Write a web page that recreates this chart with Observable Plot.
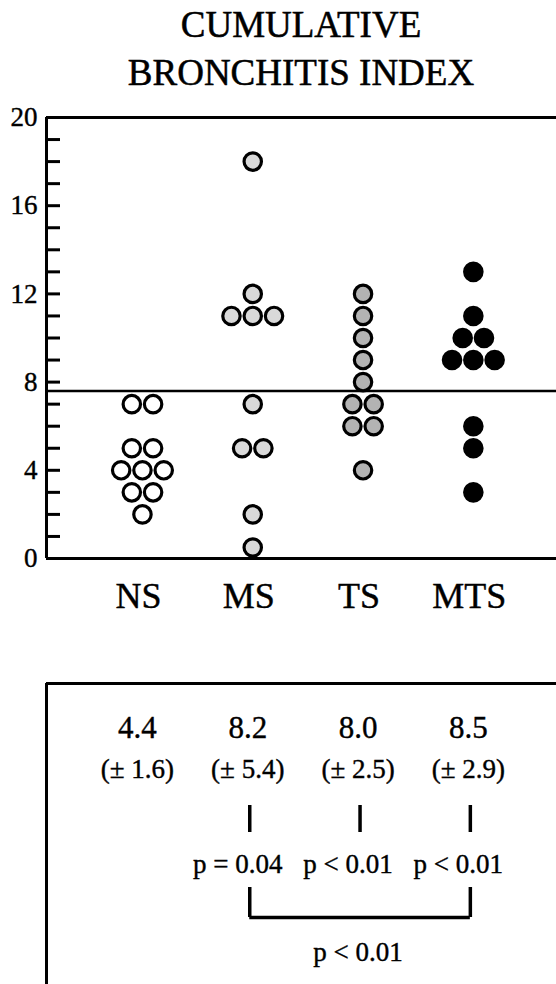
<!DOCTYPE html>
<html><head><meta charset="utf-8">
<script src="https://cdn.jsdelivr.net/npm/d3@7"></script>
<script src="https://cdn.jsdelivr.net/npm/@observablehq/plot@0.6"></script>
<style>
body{margin:0;background:#fff;width:556px;height:984px;overflow:hidden;font-family:"Liberation Serif",serif;color:#000}
#title{height:100px;box-sizing:border-box;padding-left:46px;padding-top:1px;text-align:center;font-size:37px;line-height:48px;-webkit-text-stroke:0.5px #000}
svg{display:block}
svg text{stroke:#000;stroke-width:0.4px}
</style></head><body>
<div id="title">CUMULATIVE<br>BRONCHITIS INDEX</div>
<div id="chart"></div>
<div id="stats"></div>
<script>
const groups = ["NS", "MS", "TS", "MTS"];
const fills = ["#ffffff", "#d9d9d9", "#b3b3b3", "#000000"];
const nsValues = [7, 7, 5, 5, 4, 4, 4, 3, 3, 2];
const msValues = [18, 12, 11, 11, 11, 7, 5, 5, 2, 0.5];
const tsValues = [12, 11, 10, 9, 8, 7, 7, 6, 6, 4];
const mtsValues = [13, 11, 10, 10, 9, 9, 9, 6, 5, 3];
const threshold = 7.6;
const yTickLabels = [0, 4, 8, 12, 16, 20];
const yMinorTicks = d3.range(0, 21, 1);
const means = [4.4, 8.2, 8.0, 8.5];
const sds = [1.6, 5.4, 2.5, 2.9];
const pVsNS = [{group: "MS", p: "p = 0.04"}, {group: "TS", p: "p < 0.01"}, {group: "MTS", p: "p < 0.01"}];
const bracket = {from: "MS", to: "MTS", p: "p < 0.01"};

// layout
const xDomain = [-0.87, 3.754];
const step = 0.193;
const font = '"Liberation Serif", "Times New Roman", serif';

const points = [];
[nsValues, msValues, tsValues, mtsValues].forEach((vals, gi) => {
  const counts = d3.rollup(vals, v => v.length, d => d);
  const seen = new Map();
  vals.forEach(v => {
    const n = counts.get(v), j = seen.get(v) || 0;
    seen.set(v, j + 1);
    points.push({group: groups[gi], gi, value: v, pos: gi + (j - (n - 1) / 2) * step});
  });
});

const chart = Plot.plot({
  width: 556, height: 540,
  marginTop: 17, marginBottom: 82, marginLeft: 46, marginRight: 0,
  style: {fontFamily: font, color: "#000", background: "#fff", overflow: "visible"},
  x: {domain: xDomain, axis: null},
  y: {domain: [0, 20], axis: null},
  color: {domain: groups, range: fills},
  marks: [
    Plot.ruleY([0, 20], {stroke: "#000", strokeWidth: 3}),
    Plot.ruleX([xDomain[0]], {stroke: "#000", strokeWidth: 3}),
    Plot.ruleY([threshold], {stroke: "#000", strokeWidth: 2.5}),
    Plot.axisY({ticks: yMinorTicks, tickSize: -14, tickFormat: () => "", strokeWidth: 3, label: null}),
    Plot.axisY({ticks: yTickLabels, tickSize: 0, tickPadding: 9, fontSize: 27, label: null}),
    Plot.axisX({ticks: [0, 1, 2, 3], tickFormat: i => groups[i], tickSize: 0, tickPadding: 24, fontSize: 36, dx: -4, label: null}),
    Plot.dot(points, {x: "pos", y: "value", r: 8.7, fill: "group", stroke: "#000", strokeWidth: 3.2})
  ]
});
document.getElementById("chart").append(chart);

const statsRows = groups.map((g, i) => ({gi: i, mean: means[i].toFixed(1), sd: "(± " + sds[i].toFixed(1) + ")"}));
const idx = g => groups.indexOf(g);
const stats = Plot.plot({
  width: 556, height: 344,
  marginTop: 0, marginBottom: 0, marginLeft: 46, marginRight: 0,
  style: {fontFamily: font, color: "#000", background: "#fff", overflow: "visible"},
  x: {domain: xDomain, axis: null},
  y: {domain: [0, 344], range: [0, 344], axis: null},
  marks: [
    Plot.ruleY([43], {stroke: "#000", strokeWidth: 3}),
    Plot.ruleX([xDomain[0]], {y1: 43, y2: 344, stroke: "#000", strokeWidth: 3}),
    Plot.text(statsRows, {x: "gi", y: () => 97, text: "mean", fontSize: 31, lineAnchor: "bottom", dx: -5, fill: "#000"}),
    Plot.text(statsRows, {x: "gi", y: () => 137, text: "sd", fontSize: 27, lineAnchor: "bottom", dx: -5, fill: "#000"}),
    Plot.ruleX(pVsNS, {x: d => idx(d.group), y1: () => 165, y2: () => 192, dx: -3, stroke: "#000", strokeWidth: 3.5}),
    Plot.text(pVsNS, {x: d => idx(d.group), y: () => 232, text: "p", fontSize: 27, lineAnchor: "bottom", dx: -15, fill: "#000"}),
    Plot.ruleX([bracket.from, bracket.to], {x: d => idx(d), y1: () => 247, y2: () => 277, dx: -3, stroke: "#000", strokeWidth: 3.5}),
    Plot.ruleY([bracket], {y: () => 277, x1: d => idx(d.from), x2: d => idx(d.to), dx: -3, stroke: "#000", strokeWidth: 3.5}),
    Plot.text([bracket], {x: d => (idx(d.from) + idx(d.to)) / 2, y: () => 320, text: "p", fontSize: 27, lineAnchor: "bottom", dx: -5, fill: "#000"})
  ]
});
document.getElementById("stats").append(stats);
</script>
</body></html>
